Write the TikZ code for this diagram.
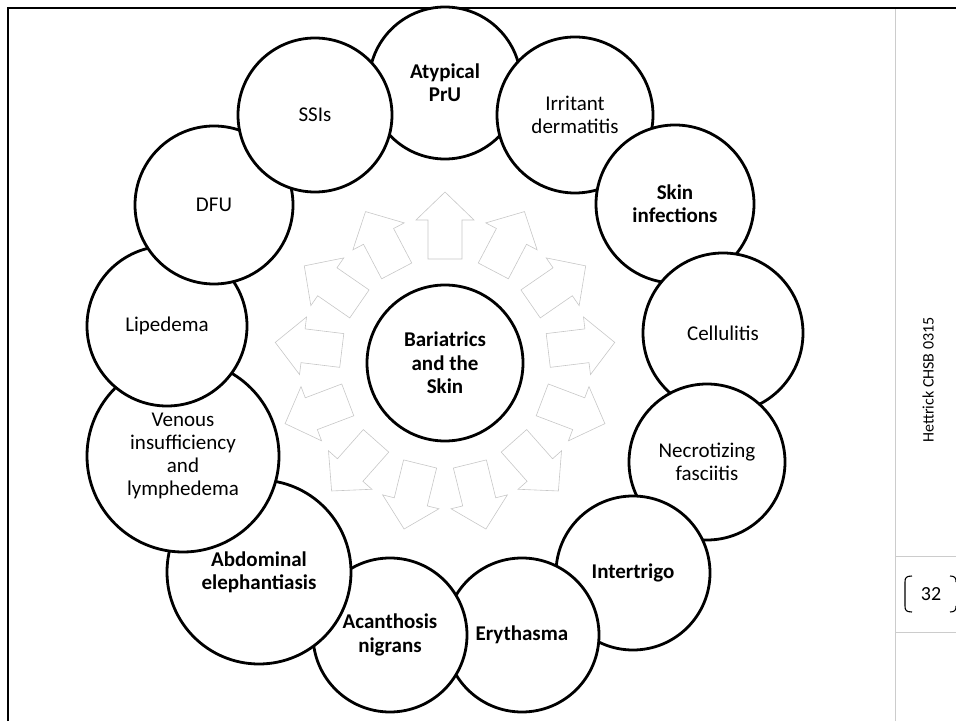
\documentclass[tikz,border=0pt]{standalone}
\usepackage{fontspec}
\setmainfont{Carlito}
\tikzset{
    topic/.style={
        circle,
        draw=black,
        line width=2.8pt,
        fill=white,
        inner sep=0pt,
        align=center,
        font=\fontsize{21}{23.3}\selectfont
    },
    boldtopic/.style={
        topic,
        font=\fontsize{21}{23.3}\selectfont\bfseries
    },
    spoke/.style={
        draw=black!22,
        line width=0.6pt,
        line join=miter
    },
    frameline/.style={
        draw=black,
        line width=2.8pt
    },
    sideline/.style={
        draw=black!20,
        line width=0.9pt
    },
    sidetext/.style={
        font=\fontsize{16}{18}\selectfont,
        inner sep=0pt
    }
}

\begin{document}
\begin{tikzpicture}[x=1pt, y=1pt]
\useasboundingbox (0,0) rectangle (956,721);

% page frame and side bar
\draw[frameline] (8,0) -- (8,713) -- (956,713);
\draw[sideline] (895,0) -- (895,712);
\draw[sideline] (895,165) -- (956,165);
\draw[sideline] (895,89) -- (956,89);
\node[sidetext, rotate=90] (tag) at (928,341) {Hettrick CHSB 0315};
\node[sidetext, font=\fontsize{20}{22}\selectfont] (num) at (931,127) {32};
\draw[line width=1.1pt] (912,145) .. controls (906,145) and (905,143) .. (905,139)
    -- (905,115) .. controls (905,111) and (906,109) .. (912,109);
\draw[line width=1.1pt] (950,145) .. controls (955,145) and (956,143) .. (956,139);
\draw[line width=1.1pt] (950,109) .. controls (955,109) and (956,111) .. (956,115);

% centre
\node[boldtopic, minimum size=156pt] (hub) at (445,358) {Bariatrics\\and the\\Skin};

% arrows round the centre
\foreach \k in {0,...,12}{
    \begin{scope}[shift={(hub.center)}, rotate={-\k*360/13}]
        \draw[spoke] (-17,104) -- (-17,143) -- (-29,143) -- (0,171)
            -- (29,143) -- (17,143) -- (17,104) -- cycle;
    \end{scope}
}

% outer ring, clockwise from the top
\node[boldtopic, minimum size=152pt] (pru) at (445,638) {Atypical\\PrU};
\node[topic, minimum size=156pt] (irritant) at (575,606) {Irritant\\dermatitis};
\node[boldtopic, minimum size=158pt] (skininf) at (675,517) {Skin\\infections};
\node[topic, minimum size=160pt] (cellulitis) at (723,388) {Cellulitis};
\node[topic, minimum size=156pt] (necrot) at (707,259) {Necrotizing\\fasciitis};
\node[boldtopic, minimum size=154pt] (intertrigo) at (633,148) {Intertrigo};
\node[boldtopic, minimum size=154pt] (erythasma) at (522,86) {Erythasma};
\node[boldtopic, minimum size=154pt] (acanth) at (390,86) {Acanthosis\\nigrans};
\node[boldtopic, minimum size=184pt] (abdominal) at (259,149) {Abdominal\\elephantiasis};
\node[topic, minimum size=192pt] (venous) at (183,265) {Venous\\insufficiency\\and\\lymphedema};
\node[topic, minimum size=160pt] (lipedema) at (167,395) {Lipedema};
\node[topic, minimum size=158pt] (dfu) at (214,516) {DFU};
\node[topic, minimum size=154pt] (ssi) at (315,606) {SSIs};

\end{tikzpicture}
\end{document}
